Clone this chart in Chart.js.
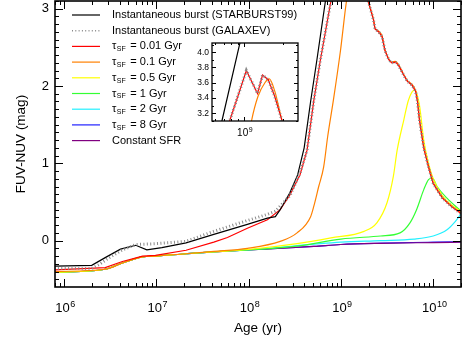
<!DOCTYPE html>
<html>
<head>
<meta charset="utf-8">
<script src="https://cdn.jsdelivr.net/npm/chart.js@4.4.1/dist/chart.umd.min.js"></script>
<style>
  html, body { margin: 0; padding: 0; background: #fff; }
  #wrap { position: relative; width: 468px; height: 343px; }
  #mainChart { position: absolute; left: 0; top: 0; }
  #insetChart { position: absolute; left: 190px; top: 38px; }
</style>
</head>
<body>
<div id="wrap">
  <canvas id="mainChart" width="468" height="343"></canvas>
  <canvas id="insetChart" width="112" height="108"></canvas>
</div>
<script>
// ages in yr, FUV-NUV colour in mag

const ageSB99 = [7.9e5, 2.0e6, 2.8e6, 4.1e6, 6.0e6, 7.9e6, 1.15e7, 2.1e7, 4.2e7, 9.7e7, 1.6e8, 1.95e8, 2.2e8, 2.8e8, 3.4e8, 4.0e8, 4.7e8, 5.5e8, 6.8e8, 9.3e8, 1.0e9];
const magSB99 = [-0.33, -0.32, -0.22, -0.11, -0.06, -0.12, -0.09, -0.03, 0.08, 0.21, 0.29, 0.31, 0.40, 0.62, 0.85, 1.20, 1.80, 2.34, 3.10, 4.10, 4.30];

const ageGalaxev = [7.9e5, 2.0e6, 2.4e6, 3.1e6, 4.3e6, 6.0e6, 9.8e6, 2.1e7, 4.2e7, 9.7e7, 1.6e8, 1.95e8, 2.8e8, 3.6e8, 4.3e8, 5.1e8, 6.0e8, 7.8e8, 1.05e9, 1.28e9, 1.40e9, 1.55e9, 1.74e9, 2.0e9, 2.26e9, 2.34e9, 2.57e9, 2.79e9, 3.0e9, 3.3e9, 3.55e9, 3.9e9, 4.2e9, 4.8e9, 5.25e9, 5.9e9, 6.45e9, 6.75e9, 7.1e9, 7.9e9, 8.9e9, 1.0e10, 1.26e10, 1.58e10, 2.05e10];
const magGalaxev = [-0.36, -0.36, -0.31, -0.22, -0.12, -0.05, -0.04, -0.01, 0.12, 0.26, 0.34, 0.38, 0.58, 0.87, 1.17, 1.82, 2.34, 3.10, 3.76, 3.46, 3.70, 3.64, 3.42, 3.08, 2.85, 2.74, 2.70, 2.64, 2.46, 2.34, 2.30, 2.31, 2.27, 2.14, 2.06, 2.01, 1.93, 1.80, 1.56, 1.20, 0.95, 0.74, 0.55, 0.44, 0.34];

const ageTau001 = [7.9e5, 2.8e6, 4.3e6, 7.1e6, 9.8e6, 2.1e7, 4.2e7, 5.9e7, 9.7e7, 1.6e8, 2.2e8, 2.8e8, 3.6e8, 4.3e8, 5.1e8, 6.0e8, 7.8e8, 1.05e9, 1.28e9, 1.40e9, 1.55e9, 1.74e9, 2.0e9, 2.26e9, 2.34e9, 2.57e9, 2.79e9, 3.0e9, 3.3e9, 3.55e9, 3.9e9, 4.2e9, 4.8e9, 5.25e9, 5.9e9, 6.45e9, 6.75e9, 7.1e9, 7.9e9, 8.9e9, 1.0e10, 1.26e10, 1.58e10, 2.05e10];
const magTau001 = [-0.38, -0.35, -0.27, -0.20, -0.19, -0.125, -0.02, 0.04, 0.16, 0.27, 0.40, 0.59, 0.85, 1.17, 1.82, 2.34, 3.10, 3.76, 3.46, 3.70, 3.64, 3.42, 3.08, 2.85, 2.74, 2.70, 2.64, 2.46, 2.34, 2.30, 2.31, 2.27, 2.14, 2.06, 2.01, 1.93, 1.80, 1.56, 1.20, 0.95, 0.74, 0.55, 0.44, 0.34];

const ageTau01 = [7.9e5, 2.8e6, 4.3e6, 7.1e6, 9.8e6, 2.1e7, 4.2e7, 9.7e7, 2.2e8, 3.35e8, 4.7e8, 5.1e8, 5.75e8, 6.5e8, 7.2e8, 8.3e8, 9.9e8, 1.15e9, 1.29e9, 1.46e9, 1.58e9, 1.74e9, 2.0e9, 2.26e9, 2.34e9, 2.57e9, 2.79e9, 3.0e9, 3.3e9, 3.55e9, 3.9e9, 4.2e9, 4.8e9, 5.25e9, 5.9e9, 6.45e9, 6.75e9, 7.1e9, 7.9e9, 8.9e9, 1.0e10, 1.26e10, 1.58e10, 2.05e10];
const magTau01 = [-0.40, -0.37, -0.29, -0.21, -0.20, -0.17, -0.14, -0.10, -0.01, 0.10, 0.31, 0.45, 0.70, 0.95, 1.35, 1.82, 2.46, 3.10, 3.42, 3.60, 3.65, 3.49, 3.08, 2.86, 2.75, 2.71, 2.65, 2.47, 2.35, 2.31, 2.32, 2.28, 2.15, 2.07, 2.02, 1.94, 1.81, 1.57, 1.21, 0.96, 0.75, 0.56, 0.45, 0.35];

const ageTau05 = [7.9e5, 2.8e6, 4.3e6, 7.1e6, 9.8e6, 2.1e7, 4.2e7, 1.0e8, 3.35e8, 7.8e8, 1.78e9, 2.45e9, 3.16e9, 3.7e9, 4.07e9, 4.8e9, 5.4e9, 6.3e9, 7.1e9, 7.9e9, 8.9e9, 1.0e10, 1.26e10, 1.58e10, 2.05e10];
const magTau05 = [-0.41, -0.37, -0.29, -0.21, -0.20, -0.17, -0.145, -0.115, -0.04, 0.035, 0.12, 0.23, 0.49, 0.83, 1.17, 1.56, 1.82, 1.95, 1.75, 1.30, 1.00, 0.80, 0.58, 0.46, 0.37];

const ageTau1 = [7.9e5, 2.8e6, 4.3e6, 7.1e6, 9.8e6, 2.1e7, 4.2e7, 1.0e8, 3.35e8, 1.0e9, 2.7e9, 4.37e9, 5.6e9, 6.6e9, 7.9e9, 8.9e9, 9.8e9, 1.1e10, 1.41e10, 2.05e10];
const magTau1 = [-0.41, -0.37, -0.29, -0.21, -0.20, -0.17, -0.145, -0.12, -0.07, 0.02, 0.06, 0.10, 0.23, 0.40, 0.66, 0.79, 0.81, 0.70, 0.55, 0.37];

const ageTau2 = [7.9e5, 2.8e6, 4.3e6, 7.1e6, 9.8e6, 2.1e7, 4.2e7, 1.0e8, 1.0e9, 2.7e9, 6.2e9, 1.0e10, 1.41e10, 1.74e10, 2.05e10];
const magTau2 = [-0.41, -0.37, -0.29, -0.21, -0.20, -0.17, -0.145, -0.12, -0.02, 0.0, 0.02, 0.06, 0.14, 0.25, 0.36];

const ageTau8 = [7.9e5, 2.8e6, 4.3e6, 7.1e6, 9.8e6, 2.1e7, 4.2e7, 1.0e8, 5.1e8, 1.0e9, 2.7e9, 1.0e10, 2.05e10];
const magTau8 = [-0.41, -0.37, -0.29, -0.21, -0.20, -0.17, -0.145, -0.12, -0.075, -0.05, -0.033, -0.02, -0.015];

const ageConst = [7.9e5, 2.8e6, 4.3e6, 7.1e6, 9.8e6, 2.1e7, 4.2e7, 1.0e8, 5.1e8, 1.0e9, 2.7e9, 1.0e10, 2.05e10];
const magConst = [-0.41, -0.37, -0.29, -0.21, -0.20, -0.17, -0.145, -0.12, -0.075, -0.05, -0.035, -0.025, -0.02];

const tauValues = ['0.01', '0.1', '0.5', '1', '2', '8'];

const xTickLabels = [1e6, 1e7, 1e8, 1e9, 1e10];
const yTickLabels = [0, 1, 2, 3];
const insetXTickLabels = [1e9];
const insetYTickLabels = [3.2, 3.4, 3.6, 3.8, 4.0];

const FONT = '"Liberation Sans", Arial, Helvetica, sans-serif';

const series = [
  { label: 'Instantaneous burst (STARBURST99)', ages: ageSB99, mags: magSB99, color: '#000000', order: 1, width: 1.2, tension: 0 },
  { label: 'Instantaneous burst (GALAXEV)', ages: ageGalaxev, mags: magGalaxev, color: '#8a8a8a', order: 0, width: 3, dash: [1, 2.4], tension: 0 },
  { label: `τ_SF = ${tauValues[0]} Gyr`, ages: ageTau001, mags: magTau001, color: '#ff0000', order: 2, width: 1.2, tension: 0 },
  { label: `τ_SF = ${tauValues[1]} Gyr`, ages: ageTau01, mags: magTau01, color: '#ff8000', order: 3, width: 1.2 },
  { label: `τ_SF = ${tauValues[2]} Gyr`, ages: ageTau05, mags: magTau05, color: '#ffff00', order: 4, width: 1.2 },
  { label: `τ_SF = ${tauValues[3]} Gyr`, ages: ageTau1, mags: magTau1, color: '#33ff33', order: 5, width: 1.2 },
  { label: `τ_SF = ${tauValues[4]} Gyr`, ages: ageTau2, mags: magTau2, color: '#22f0ff', order: 6, width: 1.2 },
  { label: `τ_SF = ${tauValues[5]} Gyr`, ages: ageTau8, mags: magTau8, color: '#2020ff', order: 8, width: 1.2 },
  { label: 'Constant SFR', ages: ageConst, mags: magConst, color: '#800080', order: 7, width: 1.2 }
];

function makeDatasets() {
  return series.map(s => ({
    label: s.label,
    data: s.ages.map((a, i) => ({ x: a, y: s.mags[i] })),
    borderColor: s.color,
    borderWidth: s.width,
    borderDash: s.dash || [],
    pointRadius: 0,
    fill: false,
    order: s.order,
    tension: s.tension === 0 ? 0 : 0.4,
    cubicInterpolationMode: s.tension === 0 ? 'default' : 'monotone'
  }));
}

// minor tick positions on a log axis
function logMinor(min, max) {
  const out = [];
  for (let e = Math.floor(Math.log10(min)); e <= Math.ceil(Math.log10(max)); e++) {
    for (let k = 2; k <= 9; k++) {
      const v = k * Math.pow(10, e);
      if (v >= min && v <= max) out.push(v);
    }
  }
  return out;
}
function linMinor(min, max, step) {
  const out = [];
  for (let v = Math.ceil(min / step) * step; v <= max + 1e-9; v += step) out.push(+v.toFixed(3));
  return out;
}

function drawPow10(ctx, px, py, exp, big, small, rise) {
  ctx.font = `${big}px ${FONT}`;
  const wb = ctx.measureText('10').width;
  ctx.font = `${small}px ${FONT}`;
  const we = ctx.measureText(String(exp)).width;
  const x0 = px - (wb + we) / 2 + 1;
  ctx.textAlign = 'left';
  ctx.textBaseline = 'alphabetic';
  ctx.font = `${big}px ${FONT}`;
  ctx.fillText('10', x0, py);
  ctx.font = `${small}px ${FONT}`;
  ctx.fillText(String(exp), x0 + wb + 0.5, py - rise);
}

// frame with inward ticks on all four sides, tick labels and axis titles
const framePlugin = {
  id: 'frame',
  afterDraw(chart, args, o) {
    const { ctx, chartArea: a, scales: { x, y } } = chart;
    ctx.save();
    ctx.strokeStyle = '#000';
    ctx.lineWidth = o.tickWidth;
    ctx.beginPath();
    const xt = o.xMajor.map(v => [v, o.major]).concat(o.xMinor.map(v => [v, o.minor]));
    xt.forEach(([v, len]) => {
      const px = Math.round(x.getPixelForValue(v)) + 0.5;
      if (px < a.left - 0.5 || px > a.right + 0.5) return;
      ctx.moveTo(px, a.bottom); ctx.lineTo(px, a.bottom - len);
      ctx.moveTo(px, a.top); ctx.lineTo(px, a.top + len);
    });
    const yt = o.yMajor.map(v => [v, o.major]).concat(o.yMinor.map(v => [v, o.minor]));
    yt.forEach(([v, len]) => {
      const py = Math.round(y.getPixelForValue(v)) + 0.5;
      if (py < a.top - 0.5 || py > a.bottom + 0.5) return;
      ctx.moveTo(a.left, py); ctx.lineTo(a.left + len, py);
      ctx.moveTo(a.right, py); ctx.lineTo(a.right - len, py);
    });
    ctx.stroke();
    ctx.lineWidth = o.frameWidth;
    ctx.strokeRect(a.left, a.top, a.right - a.left, a.bottom - a.top);

    ctx.fillStyle = '#000';
    o.xMajor.forEach(v => {
      drawPow10(ctx, x.getPixelForValue(v), a.bottom + o.xLabelOffset, Math.round(Math.log10(v)), o.xFont, o.xExpFont, o.xExpRise);
    });
    ctx.font = `${o.yFont}px ${FONT}`;
    ctx.textAlign = 'right';
    ctx.textBaseline = 'middle';
    o.yMajor.forEach(v => ctx.fillText(o.yFormat(v), a.left - o.yLabelGap, y.getPixelForValue(v)));

    if (o.xTitle) {
      ctx.font = `${o.titleFont}px ${FONT}`;
      ctx.textAlign = 'center';
      ctx.textBaseline = 'middle';
      ctx.fillText(o.xTitle, (a.left + a.right) / 2, o.xTitleY);
      ctx.translate(o.yTitleX, (a.top + a.bottom) / 2);
      ctx.rotate(-Math.PI / 2);
      ctx.fillText(o.yTitle, 0, 0);
    }
    ctx.restore();
  }
};

// legend with τ_SF subscripts
const legendPlugin = {
  id: 'sfLegend',
  afterDraw(chart) {
    const ctx = chart.ctx;
    ctx.save();
    series.forEach((s, i) => {
      const ly = 15 + i * 15.7;
      ctx.beginPath();
      ctx.strokeStyle = s.color;
      if (s.dash) { ctx.lineWidth = 1.6; ctx.setLineDash([1, 2.3]); }
      else { ctx.lineWidth = 1.2; ctx.setLineDash([]); }
      ctx.moveTo(72, ly); ctx.lineTo(100, ly);
      ctx.stroke();
      ctx.setLineDash([]);
      ctx.fillStyle = '#000';
      ctx.textBaseline = 'middle';
      ctx.textAlign = 'left';
      let tx = 112;
      const parts = s.label.split('_SF');
      ctx.font = `11px ${FONT}`;
      if (parts.length === 2) {
        ctx.fillText(parts[0], tx, ly);
        tx += ctx.measureText(parts[0]).width + 0.5;
        ctx.font = `7px ${FONT}`;
        ctx.fillText('SF', tx, ly + 3);
        tx += ctx.measureText('SF').width + 1.5;
        ctx.font = `11px ${FONT}`;
        ctx.fillText(parts[1], tx, ly);
      } else {
        ctx.fillText(s.label, tx, ly);
      }
    });
    ctx.restore();
  }
};

new Chart(document.getElementById('mainChart'), {
  type: 'line',
  data: { datasets: makeDatasets() },
  plugins: [framePlugin, legendPlugin],
  options: {
    responsive: false,
    animation: false,
    devicePixelRatio: 1,
    layout: { padding: { left: 55, top: 1, right: 7, bottom: 56 } },
    plugins: {
      legend: { display: false },
      tooltip: { enabled: false },
      frame: {
        xMajor: xTickLabels, xMinor: logMinor(8e5, 2e10),
        yMajor: yTickLabels, yMinor: linMinor(-0.6, 3.1, 0.1),
        major: 8, minor: 4, tickWidth: 1, frameWidth: 1.6,
        xLabelOffset: 25, xFont: 13, xExpFont: 9, xExpRise: 5,
        yFont: 13, yLabelGap: 6, yFormat: v => String(v),
        titleFont: 13.5, xTitle: 'Age (yr)', xTitleY: 328,
        yTitle: 'FUV-NUV (mag)', yTitleX: 21
      }
    },
    scales: {
      x: { type: 'logarithmic', min: 8e5, max: 2e10, display: false },
      y: { type: 'linear', min: -0.6, max: 3.1, display: false }
    }
  }
});

new Chart(document.getElementById('insetChart'), {
  type: 'line',
  data: { datasets: makeDatasets() },
  plugins: [framePlugin, {
    id: 'insetBg',
    beforeDraw(chart) {
      const { ctx, chartArea: a } = chart;
      ctx.save(); ctx.fillStyle = '#fff';
      ctx.fillRect(a.left, a.top, a.right - a.left, a.bottom - a.top);
      ctx.restore();
    }
  }],
  options: {
    responsive: false,
    animation: false,
    devicePixelRatio: 1,
    layout: { padding: { left: 22, top: 5, right: 4, bottom: 25 } },
    plugins: {
      legend: { display: false },
      tooltip: { enabled: false },
      frame: {
        xMajor: insetXTickLabels, xMinor: logMinor(5.7e8, 2.63e9),
        yMajor: insetYTickLabels, yMinor: linMinor(3.1, 4.12, 0.1),
        major: 4, minor: 2, tickWidth: 1, frameWidth: 1.3,
        xLabelOffset: 15, xFont: 10, xExpFont: 7, xExpRise: 4,
        yFont: 8.5, yLabelGap: 3, yFormat: v => v.toFixed(1)
      }
    },
    scales: {
      x: { type: 'logarithmic', min: 5.7e8, max: 2.63e9, display: false },
      y: { type: 'linear', min: 3.1, max: 4.12, display: false }
    }
  }
});
</script>
</body>
</html>
